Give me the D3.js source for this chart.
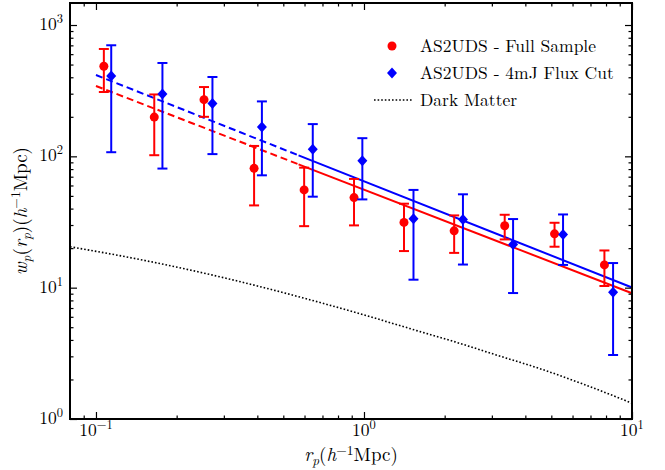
<!DOCTYPE html>
<html><head><meta charset="utf-8">
<script src="https://cdn.jsdelivr.net/npm/d3@7"></script>
<style>
body{margin:0;background:#fff}
svg{display:block}
</style>
</head><body>
<svg id="c" width="665" height="470"></svg>
<script>
// ---- data ----
const fullR  = [0.107, 0.165, 0.253, 0.389, 0.598, 0.918, 1.41, 2.17, 3.35, 5.14, 7.89];
const fullW  = [485, 199, 270, 81, 55.5, 48.5, 31.4, 27.1, 29.6, 25.7, 14.9];
const fullLo = [309, 102, 200, 42.3, 29.4, 29.8, 19.0, 18.4, 23.3, 20.5, 10.3];
const fullHi = [657, 296, 337, 120, 82, 67.3, 43.6, 35.5, 35.9, 31.2, 19.2];

const cutR  = [0.114, 0.177, 0.272, 0.416, 0.644, 0.986, 1.53, 2.34, 3.60, 5.53, 8.50];
const cutW  = [409, 298, 253, 167, 113, 92.4, 33.5, 33.1, 21.3, 25.4, 9.24];
const cutLo = [107.5, 80.7, 104, 71.7, 49.3, 47.0, 11.5, 15.0, 9.1, 14.9, 3.07];
const cutHi = [701, 514, 402, 262, 176, 137.5, 55.5, 51.4, 33.3, 36.1, 15.4];

// power-law fits  w = A * r^(-gamma)
const fitNames = ["full", "cut"];
const fitAmp   = [55.8, 64.6];
const fitGamma = [0.789, 0.809];
const fitRange = [0.1, 0.57, 10];   // dashed from first to second, solid to third

const dmR = [0.08, 0.15, 0.3, 0.6, 1.0, 1.5, 2.2, 3.2, 4.5, 6.5, 10];
const dmW = [20.5, 16.2, 11.9, 8.3, 6.2, 4.85, 3.85, 3.02, 2.43, 1.86, 1.32];

const xMajor = [0.1, 1, 10];
const xMajorExp = ["\u22121", "0", "1"];
const yMajor = [1, 10, 100, 1000];
const yMajorExp = ["0", "1", "2", "3"];

const legendLabels = ["AS2UDS - Full Sample", "AS2UDS - 4mJ Flux Cut", "Dark Matter"];
const RED = "#ff0000", BLUE = "#0000ff";
const FF = '"Latin Modern Roman"';

// ---- layout ----
const L = 70, R = 632, T = 3, B = 419;
const svg = d3.select("#c");
const x = d3.scaleLog().domain([0.08, 10]).range([L, R]);
const y = d3.scaleLog().domain([1, 1471]).range([B, T]);

function minorTicks(lo, hi) {
  const out = [];
  for (let e = -3; e <= 4; e++) for (let m = 2; m <= 9; m++) {
    const v = m * Math.pow(10, e);
    if (v > lo * 1.0001 && v < hi * 0.9999) out.push(v);
  }
  return out;
}
const xMinor = minorTicks(0.08, 10);
const yMinor = minorTicks(1, 1471);

// ---- dark matter ----
const dmLine = d3.line().x((d, i) => x(dmR[i])).y(d => y(d)).curve(d3.curveMonotoneX);
svg.append("path").attr("d", dmLine(dmW)).attr("fill", "none")
  .attr("stroke", "#000").attr("stroke-width", 1.6).attr("stroke-dasharray", "1.6,2.0");

// ---- fits ----
fitNames.forEach((n, k) => {
  const col = k === 0 ? RED : BLUE;
  const f = r => fitAmp[k] * Math.pow(r, -fitGamma[k]);
  const seg = (a, b) => [[x(a), y(f(a))], [x(b), y(f(b))]];
  svg.append("path").attr("d", d3.line()(seg(fitRange[0], fitRange[1])))
    .attr("stroke", col).attr("stroke-width", 2).attr("fill", "none").attr("stroke-dasharray", "7,4");
  svg.append("path").attr("d", d3.line()(seg(fitRange[1], fitRange[2])))
    .attr("stroke", col).attr("stroke-width", 2).attr("fill", "none");
});

// ---- error bars + markers ----
function drawSeries(rs, ws, lo, hi, col, shape) {
  const g = svg.append("g");
  rs.forEach((r, i) => {
    const cx = x(r);
    g.append("line").attr("x1", cx).attr("x2", cx).attr("y1", y(lo[i])).attr("y2", y(hi[i]))
      .attr("stroke", col).attr("stroke-width", 2);
    [lo[i], hi[i]].forEach(v => g.append("line").attr("x1", cx - 5).attr("x2", cx + 5)
      .attr("y1", y(v)).attr("y2", y(v)).attr("stroke", col).attr("stroke-width", 2));
  });
  rs.forEach((r, i) => {
    const cx = x(r), cy = y(ws[i]);
    if (shape === "circle") g.append("circle").attr("cx", cx).attr("cy", cy).attr("r", 4.5).attr("fill", col);
    else g.append("path").attr("d", `M${cx},${cy-5.5}L${cx+5},${cy}L${cx},${cy+5.5}L${cx-5},${cy}Z`).attr("fill", col);
  });
}
drawSeries(fullR, fullW, fullLo, fullHi, RED, "circle");
drawSeries(cutR, cutW, cutLo, cutHi, BLUE, "diamond");

// ---- axes (ticks inside on all sides) ----
function tickAxis(axisFn, scale, vals, size, transform) {
  const g = svg.append("g").attr("transform", transform)
    .call(axisFn(scale).tickValues(vals).tickSize(-size).tickFormat(""));
  g.select(".domain").remove();
  g.selectAll("line").attr("stroke", "#000").attr("stroke-width", 1.2);
}
tickAxis(d3.axisBottom, x, xMajor, 7, `translate(0,${B})`);
tickAxis(d3.axisBottom, x, xMinor, 3.5, `translate(0,${B})`);
tickAxis(d3.axisTop, x, xMajor, 7, `translate(0,${T})`);
tickAxis(d3.axisTop, x, xMinor, 3.5, `translate(0,${T})`);
tickAxis(d3.axisLeft, y, yMajor, 7, `translate(${L},0)`);
tickAxis(d3.axisLeft, y, yMinor, 3.5, `translate(${L},0)`);
tickAxis(d3.axisRight, y, yMajor, 7, `translate(${R},0)`);
tickAxis(d3.axisRight, y, yMinor, 3.5, `translate(${R},0)`);

svg.append("rect").attr("x", L).attr("y", T).attr("width", R - L).attr("height", B - T)
  .attr("fill", "none").attr("stroke", "#000").attr("stroke-width", 2);

function txt(sel) { return sel.append("text").style("font-family", FF).attr("fill", "#000"); }

// tick labels
xMajor.forEach((v, i) => {
  const t = txt(svg).attr("x", x(v)).attr("y", 436).attr("text-anchor", "middle").attr("font-size", 17.5);
  t.append("tspan").text("10");
  t.append("tspan").attr("font-size", 12.5).attr("dy", -7).text(xMajorExp[i]);
});
yMajor.forEach((v, i) => {
  const t = txt(svg).attr("x", 63).attr("y", y(v) + 5).attr("text-anchor", "end").attr("font-size", 17.5);
  t.append("tspan").text("10");
  t.append("tspan").attr("font-size", 12.5).attr("dy", -7).text(yMajorExp[i]);
});

// axis titles
const xt = txt(svg).attr("x", 351).attr("y", 461).attr("text-anchor", "middle").attr("font-size", 19);
xt.append("tspan").attr("font-style", "italic").text("r");
xt.append("tspan").attr("font-style", "italic").attr("font-size", 13.5).attr("dy", 4).text("p");
xt.append("tspan").attr("dy", -4).text("(");
xt.append("tspan").attr("font-style", "italic").text("h");
xt.append("tspan").attr("font-size", 13.5).attr("dy", -6).text("\u22121");
xt.append("tspan").attr("dy", 6).text("Mpc)");

const yt = txt(svg).attr("transform", `translate(27,${(T + B) / 2}) rotate(-90)`)
  .attr("text-anchor", "middle").attr("font-size", 19);
yt.append("tspan").attr("font-style", "italic").text("w");
yt.append("tspan").attr("font-style", "italic").attr("font-size", 13.5).attr("dy", 4).text("p");
yt.append("tspan").attr("dy", -4).text("(");
yt.append("tspan").attr("font-style", "italic").text("r");
yt.append("tspan").attr("font-style", "italic").attr("font-size", 13.5).attr("dy", 4).text("p");
yt.append("tspan").attr("dy", -4).text(")(");
yt.append("tspan").attr("font-style", "italic").text("h");
yt.append("tspan").attr("font-size", 13.5).attr("dy", -7).text("\u22121");
yt.append("tspan").attr("dy", 7).text("Mpc)");

// legend
const lg = svg.append("g");
const rowY = [46, 73, 100];
lg.append("circle").attr("cx", 392).attr("cy", rowY[0]).attr("r", 4.5).attr("fill", RED);
lg.append("path").attr("d", `M392,${rowY[1]-5.5}L397,${rowY[1]}L392,${rowY[1]+5.5}L387,${rowY[1]}Z`).attr("fill", BLUE);
lg.append("line").attr("x1", 374).attr("x2", 412).attr("y1", rowY[2]).attr("y2", rowY[2])
  .attr("stroke", "#000").attr("stroke-width", 1.6).attr("stroke-dasharray", "1.6,2.0");
legendLabels.forEach((s, i) => txt(lg).attr("x", 420).attr("y", rowY[i] + 6)
  .attr("font-size", 17.5).text(s));
</script>
</body></html>
